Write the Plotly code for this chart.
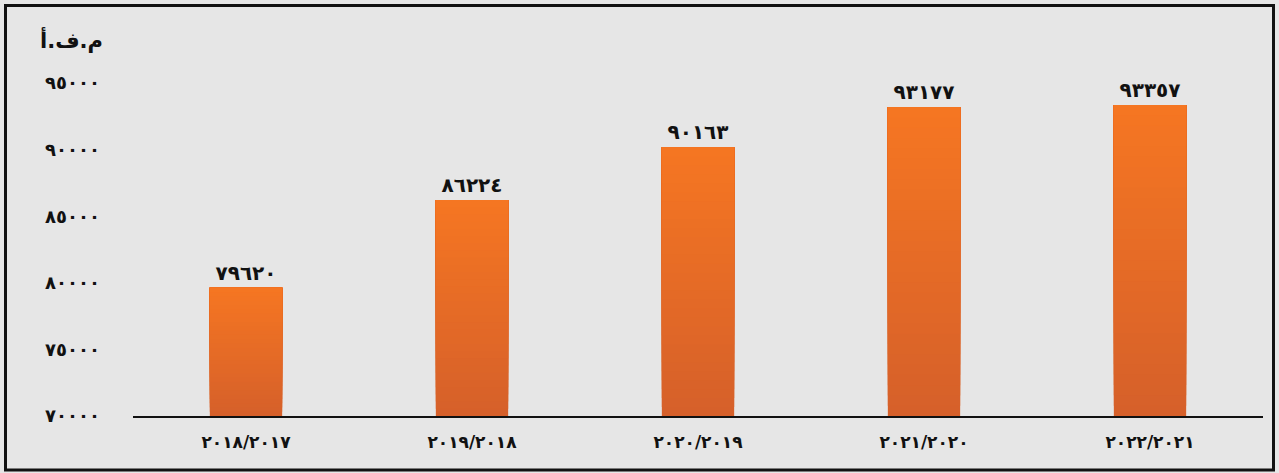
import plotly.graph_objects as go

# Data
categories = ["٢٠١٨/٢٠١٧", "٢٠١٩/٢٠١٨", "٢٠٢٠/٢٠١٩", "٢٠٢١/٢٠٢٠", "٢٠٢٢/٢٠٢١"]
values = [79620, 86224, 90163, 93177, 93357]
value_labels = ["٧٩٦٢٠", "٨٦٢٢٤", "٩٠١٦٣", "٩٣١٧٧", "٩٣٣٥٧"]
tick_vals = [70000, 75000, 80000, 85000, 90000, 95000]
tick_text = ["٧٠٠٠٠", "٧٥٠٠٠", "٨٠٠٠٠", "٨٥٠٠٠", "٩٠٠٠٠", "٩٥٠٠٠"]
axis_title = "م.ف.أ"

Y_MIN, Y_MAX = 70000, 95000
W, H = 1279, 473
M = dict(l=133, r=16, t=83, b=57)

FONT = "DejaVu Sans"
TOP_RGB = (245, 118, 34)
BOTTOM_RGB = (214, 96, 42)
N_SEG = 30


def mix(a, b, f):
    return "rgb(%d,%d,%d)" % tuple(round(a[i] + (b[i] - a[i]) * f) for i in range(3))


fig = go.Figure()

# Each bar is painted as overlapping layers, each running from a higher
# base up to the bar's value, so the fill shades from darker orange at the
# base to bright orange at the top without seams.
for k in range(N_SEG):
    f = k / (N_SEG - 1)
    bases = [Y_MIN + k * (v - Y_MIN) / N_SEG for v in values]
    heights = [v - b for v, b in zip(values, bases)]
    last = k == N_SEG - 1
    fig.add_trace(go.Bar(
        x=categories,
        y=heights,
        base=bases,
        marker=dict(color=mix(BOTTOM_RGB, TOP_RGB, f), line=dict(width=0)),
        text=value_labels if last else None,
        textposition="outside" if last else "none",
        textfont=dict(family=FONT, size=20, color="#111111", weight="bold"),
        cliponaxis=False,
        hoverinfo="skip",
        showlegend=False,
    ))

pw = W - M["l"] - M["r"]
ph = H - M["t"] - M["b"]


def px_x(x):
    return (x - M["l"]) / pw


def px_y(y):
    return (H - M["b"] - y) / ph


fig.update_layout(
    width=W,
    height=H,
    margin=M,
    barmode="overlay",
    bargap=0.68,
    paper_bgcolor="#e6e6e6",
    plot_bgcolor="#e6e6e6",
    font=dict(family=FONT, color="#111111"),
    xaxis=dict(
        showgrid=False,
        showline=True,
        linecolor="#111111",
        linewidth=2,
        ticks="",
        tickfont=dict(family=FONT, size=17, weight="bold"),
        ticklabelstandoff=10,
    ),
    yaxis=dict(
        range=[Y_MIN, Y_MAX],
        tickvals=tick_vals,
        ticktext=tick_text,
        showgrid=False,
        zeroline=False,
        showline=False,
        tickfont=dict(family=FONT, size=18, weight="bold"),
        ticklabelstandoff=32,
    ),
    annotations=[dict(
        text=axis_title,
        xref="paper", yref="paper",
        x=px_x(105), y=px_y(40),
        xanchor="right", yanchor="middle",
        showarrow=False,
        font=dict(family=FONT, size=21, weight="bold", color="#111111"),
    )],
    shapes=[dict(
        type="rect",
        xref="paper", yref="paper",
        x0=px_x(5.5), x1=px_x(1273.5),
        y0=px_y(5.5), y1=px_y(470),
        line=dict(color="#111111", width=3),
        fillcolor="rgba(0,0,0,0)",
        layer="above",
    )],
)

fig.write_html("out.html")
